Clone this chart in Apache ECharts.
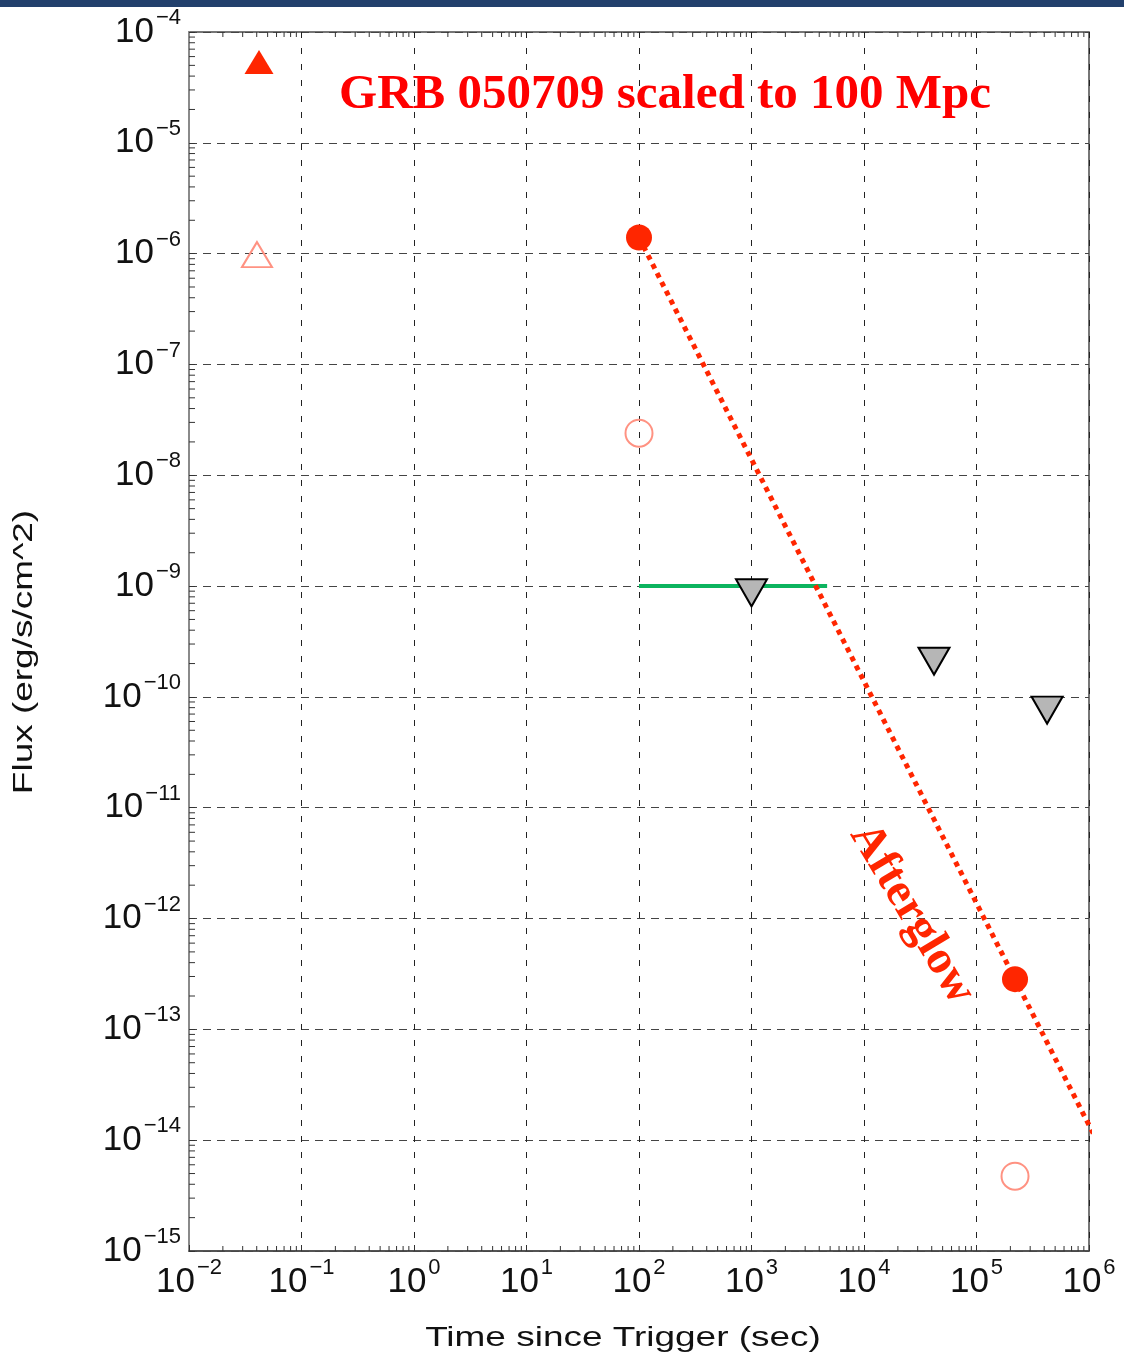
<!DOCTYPE html>
<html><head><meta charset="utf-8">
<script src="https://cdn.jsdelivr.net/npm/echarts@6/dist/echarts.min.js"></script>
<style>html,body{margin:0;padding:0;background:#fff}#chart{width:1124px;height:1360px}</style>
</head><body><div id="chart"></div>
<script>
// ---- data ----
const xMin = 0.01, xMax = 1e6;
const yMin = 1e-15, yMax = 1e-4;
const minorMultipliers = [2, 3, 4, 5, 6, 7, 8, 9];
const xDecades = [-2, -1, 0, 1, 2, 3, 4, 5];
const yDecades = [-15, -14, -13, -12, -11, -10, -9, -8, -7, -6, -5];

const promptTime = [0.0419];          // filled triangle
const promptFlux = [5.36e-5];
const promptOpenTime = [0.0402];      // open triangle
const promptOpenFlux = [9.8e-7];
const afterglowTime = [100, 2.2e5];   // filled circles
const afterglowFlux = [1.4e-6, 2.84e-13];
const openCircleTime = [100, 2.2e5];  // open circles
const openCircleFlux = [2.4e-8, 4.73e-15];
const limitTime = [1000, 4.19e4, 4.24e5]; // grey upper limits
const limitFlux = [8.7e-10, 2.1e-10, 7.6e-11];
const decayTime = [100, 1.09e6];      // dotted afterglow decay
const decayFlux = [1.4e-6, 1.15e-14];
const sensTime = [100, 4700];         // green line
const sensFlux = [1e-9, 1e-9];

const zip = (a, b) => a.map((v, i) => [v, b[i]]);

const minorX = [];
xDecades.forEach(d => minorMultipliers.forEach(m => minorX.push(m * Math.pow(10, d))));
const minorY = [];
yDecades.forEach(d => minorMultipliers.forEach(m => minorY.push(m * Math.pow(10, d))));

const RED = '#ff2600', SALMON = '#ff9282', GREY = '#b6b6b6', GREEN = '#0cb45f';
const FONT = 'Liberation Sans';

function supLabel(v) {
  const e = Math.round(Math.log10(v));
  return '{b|10}{s|' + String(e).replace('-', '\u2212') + '}';
}
const richLabel = {
  b: { fontSize: 35, lineHeight: 50, fontFamily: FONT, color: '#111', verticalAlign: 'middle' },
  s: { fontSize: 22, lineHeight: 22, fontFamily: FONT, color: '#111', verticalAlign: 'top', padding: [0, 0, 0, 2] }
};

const chart = echarts.init(document.getElementById('chart'), null, { renderer: 'canvas' });

const option = {
  backgroundColor: '#fff',
  animation: false,
  grid: { left: 189, right: 35, top: 32, bottom: 109, show: true, borderColor: '#4a4a4a', borderWidth: 1.5, containLabel: false },
  xAxis: {
    type: 'log', logBase: 10, min: xMin, max: xMax, interval: 1, splitNumber: 8,
    axisLine: { show: true, lineStyle: { color: '#4a4a4a', width: 1.5 } },
    axisTick: { show: true, inside: true, length: 6, lineStyle: { color: '#333' } },
    axisLabel: { show: true, interval: 0, margin: 6, showMinLabel: true, showMaxLabel: true, hideOverlap: false, formatter: supLabel, rich: richLabel },
    splitLine: { show: true, lineStyle: { color: '#222', width: 1, type: [6, 10] } },
    minorTick: { show: false }
  },
  yAxis: {
    type: 'log', logBase: 10, min: yMin, max: yMax, interval: 1, splitNumber: 11,
    axisLine: { show: true, lineStyle: { color: '#8a8a8a', width: 2 } },
    axisTick: { show: true, inside: true, length: 6, lineStyle: { color: '#333' } },
    axisLabel: { show: true, interval: 0, margin: 8, showMinLabel: true, showMaxLabel: true, hideOverlap: false, formatter: supLabel, rich: richLabel },
    splitLine: { show: true, lineStyle: { color: '#444', width: 1, type: [8, 6] } }
  },
  graphic: [
    { type: 'rect', shape: { x: 0, y: 0, width: 1124, height: 7 }, style: { fill: '#22406c' }, z: 100 },
    { type: 'text', x: 665, y: 95, style: { text: 'GRB 050709 scaled to 100 Mpc', font: 'bold 49px "Liberation Serif"', fill: '#ff0000', align: 'center', verticalAlign: 'middle' }, z: 100 },
    { type: 'text', x: 912, y: 914, rotation: -59 * Math.PI / 180, style: { text: 'Afterglow', font: 'bold 47px "Liberation Serif"', fill: RED, align: 'center', verticalAlign: 'middle' }, z: 100 },
    { type: 'text', x: 623, y: 1338, scaleX: 1.32, style: { text: 'Time since Trigger (sec)', font: '28px "Liberation Sans"', fill: '#111', align: 'center', verticalAlign: 'middle' }, z: 100 },
    { type: 'text', x: 24, y: 652, rotation: Math.PI / 2, scaleX: 1.32, style: { text: 'Flux (erg/s/cm^2)', font: '28px "Liberation Sans"', fill: '#111', align: 'center', verticalAlign: 'middle' }, z: 100 }
  ],
  series: [
    {
      type: 'custom', coordinateSystem: 'cartesian2d', silent: true, clip: false, z: 3,
      data: minorX.map(v => [v, yMin]),
      renderItem: (params, api) => {
        const p = api.coord([api.value(0), yMin]);
        const q = api.coord([api.value(0), yMax]);
        return { type: 'group', children: [
          { type: 'line', shape: { x1: p[0], y1: p[1], x2: p[0], y2: p[1] - 5 }, style: { stroke: '#333', lineWidth: 1 } },
          { type: 'line', shape: { x1: q[0], y1: q[1], x2: q[0], y2: q[1] + 5 }, style: { stroke: '#333', lineWidth: 1 } }
        ] };
      }
    },
    {
      type: 'custom', coordinateSystem: 'cartesian2d', silent: true, clip: false, z: 3,
      data: minorY.map(v => [xMin, v]),
      renderItem: (params, api) => {
        const p = api.coord([xMin, api.value(1)]);
        return { type: 'line', shape: { x1: p[0], y1: p[1], x2: p[0] + 6, y2: p[1] }, style: { stroke: '#333', lineWidth: 1 } };
      }
    },
    {
      type: 'line', data: zip(sensTime, sensFlux), symbol: 'none', silent: true, z: 4,
      lineStyle: { color: GREEN, width: 4, cap: 'butt' }
    },
    {
      type: 'line', data: zip(decayTime, decayFlux), symbol: 'none', silent: true, clip: false, z: 4,
      lineStyle: { color: RED, width: 5, type: [5, 5], cap: 'butt' }
    },
    {
      type: 'scatter', data: zip(limitTime, limitFlux), symbol: 'triangle', symbolRotate: 180, symbolSize: [31, 27], z: 5,
      itemStyle: { color: GREY, borderColor: '#000', borderWidth: 2, opacity: 1 }
    },
    {
      type: 'scatter', data: zip(afterglowTime, afterglowFlux), symbol: 'circle', symbolSize: 26, z: 6,
      itemStyle: { color: RED, opacity: 1 }
    },
    {
      type: 'scatter', data: zip(openCircleTime, openCircleFlux), symbol: 'circle', symbolSize: 27, z: 6,
      itemStyle: { color: 'rgba(0,0,0,0)', borderColor: SALMON, borderWidth: 2, opacity: 1 }
    },
    {
      type: 'scatter', data: zip(promptTime, promptFlux), symbol: 'triangle', symbolSize: [29, 24], z: 6,
      itemStyle: { color: RED, opacity: 1 }
    },
    {
      type: 'scatter', data: zip(promptOpenTime, promptOpenFlux), symbol: 'triangle', symbolSize: [30, 25], z: 6,
      itemStyle: { color: 'rgba(0,0,0,0)', borderColor: SALMON, borderWidth: 2, opacity: 1 }
    }
  ]
};
chart.setOption(option);
</script>
</body></html>
